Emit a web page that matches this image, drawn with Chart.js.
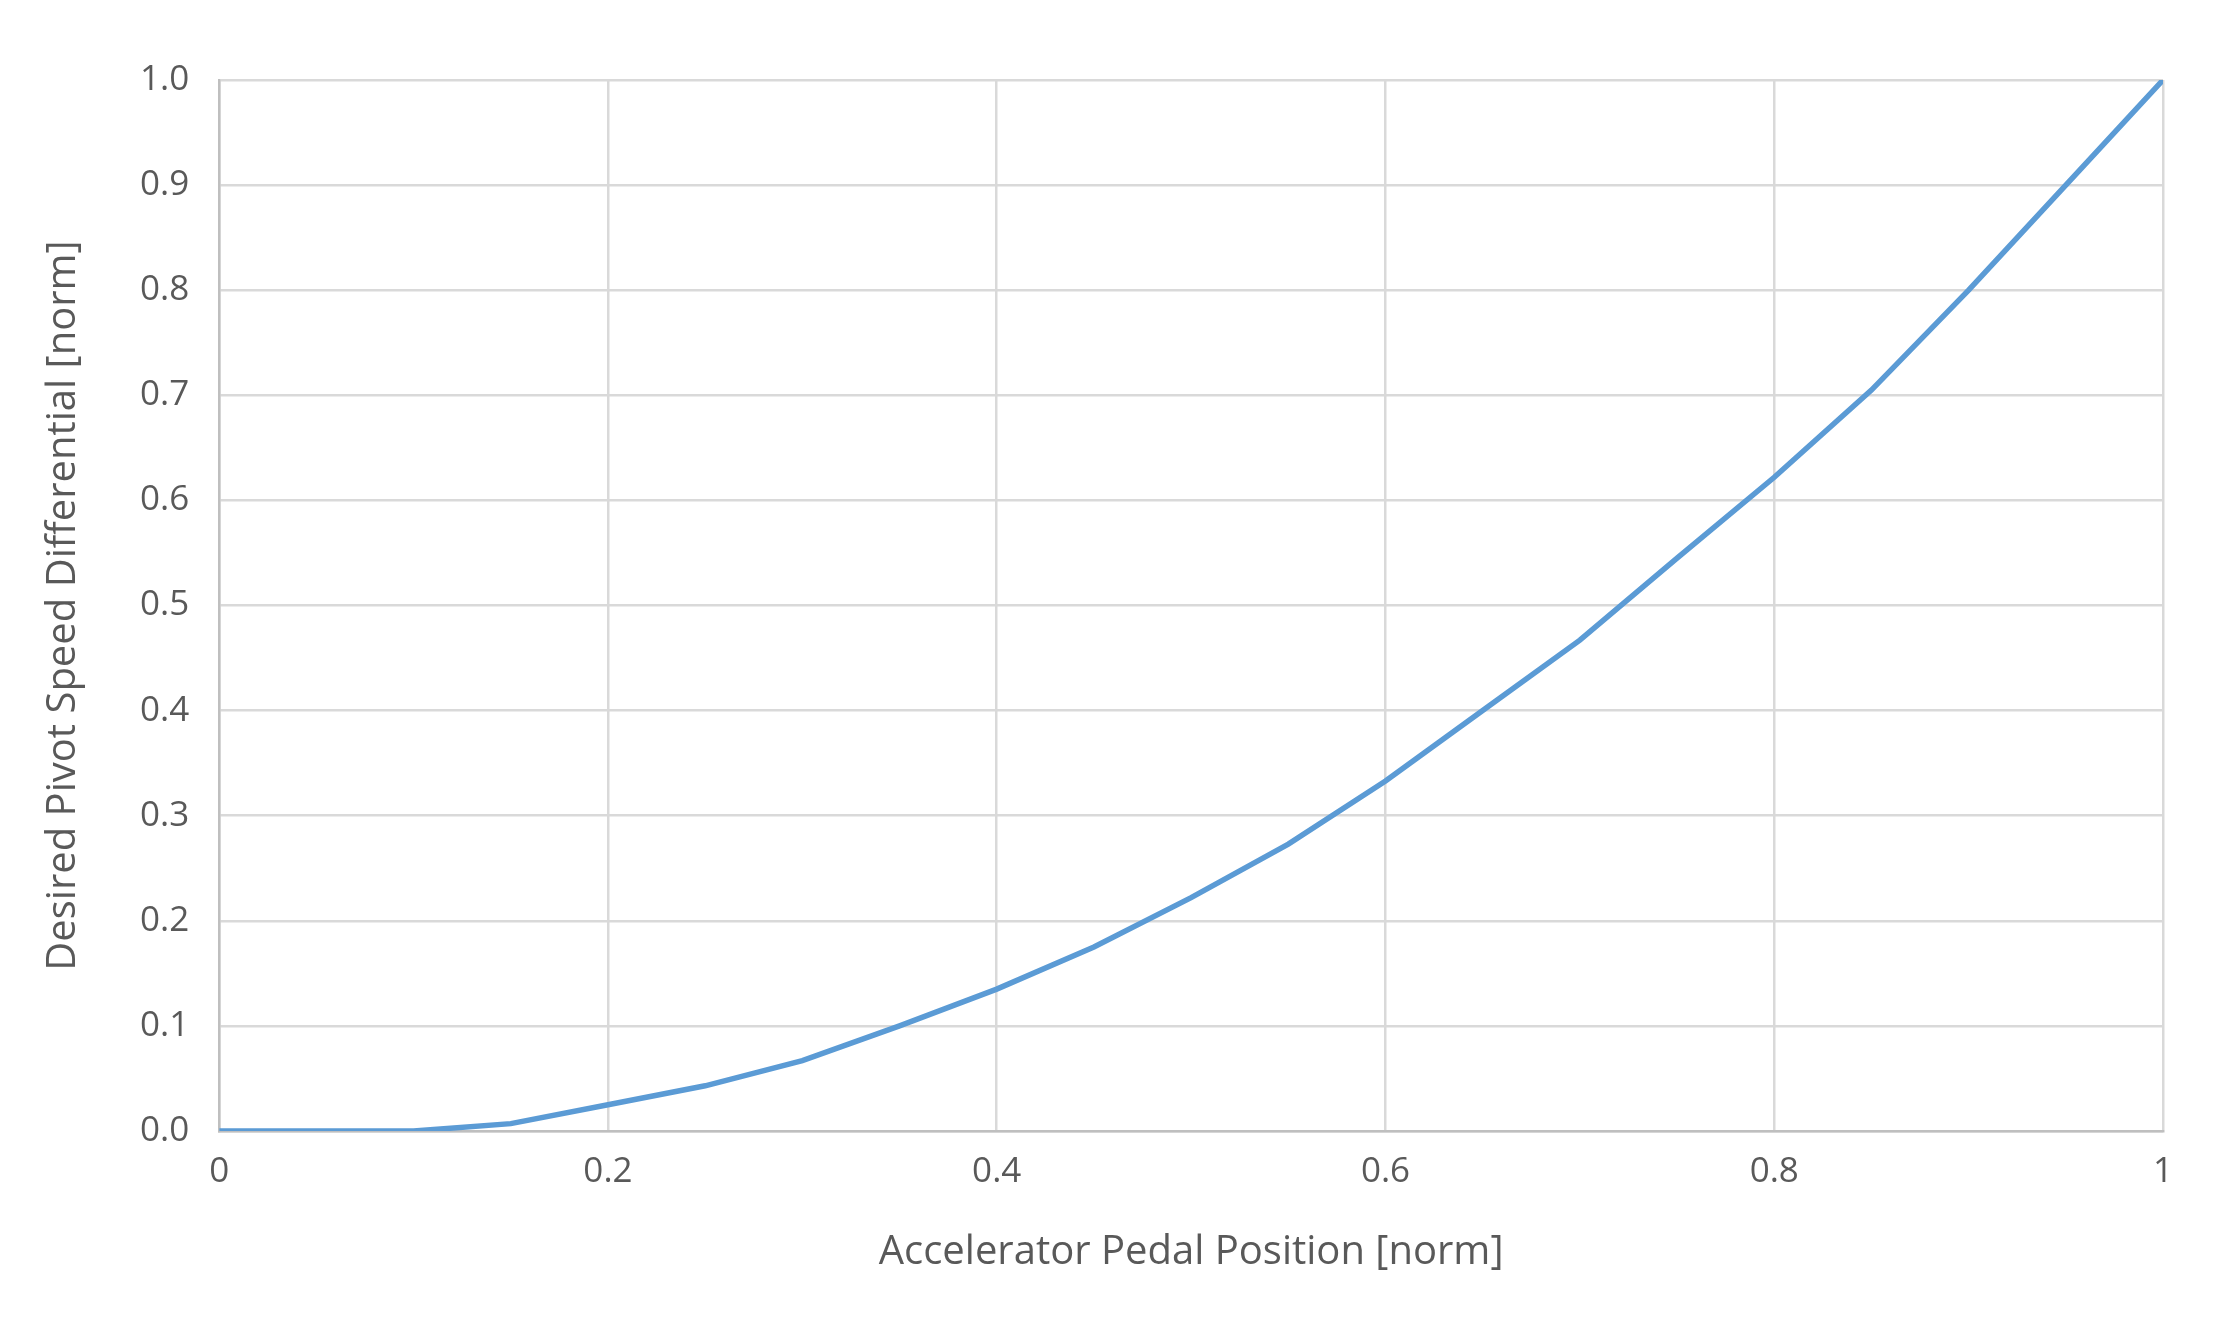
<!DOCTYPE html>
<html>
<head>
<meta charset="utf-8">
<script src="https://cdn.jsdelivr.net/npm/chart.js@4"></script>
<style>
  html, body { margin: 0; padding: 0; background: #fff; }
  #wrap { width: 2213px; height: 1323px; }
</style>
</head>
<body>
<div id="wrap"><canvas id="myChart"></canvas></div>
<script>
// pedal position (x) and desired pivot speed differential (y)
let pedalPos = [0, 0.05, 0.1, 0.15, 0.2, 0.25, 0.3, 0.35, 0.4, 0.45, 0.5,
  0.55, 0.6, 0.65, 0.7, 0.75, 0.8, 0.85, 0.9, 0.95, 1.0];
let pivotDiff = [0, 0, 0, 0.007, 0.025, 0.043, 0.067, 0.1, 0.135, 0.175, 0.222,
  0.273, 0.333, 0.4, 0.467, 0.545, 0.622, 0.705, 0.8, 0.9, 1.0];

let points = pedalPos.map((x, i) => ({ x: x, y: pivotDiff[i] }));

let gray = "#595959";
let gridColor = "#d9d9d9";

let ctx = document.getElementById("myChart").getContext("2d");
let myChart = new Chart(ctx, {
  type: "line",
  data: {
    datasets: [
      {
        data: points,
        borderColor: "#5B9BD5",
        borderWidth: 5.5,
        pointRadius: 0,
        fill: false,
        tension: 0,
      },
    ],
  },
  options: {
    responsive: true,
    maintainAspectRatio: false,
    animation: false,
    layout: { padding: { left: 36, right: 50, top: 80, bottom: 42 } },
    plugins: { legend: { display: false }, tooltip: { enabled: false } },
    scales: {
      x: {
        type: "linear",
        min: 0,
        max: 1,
        ticks: {
          stepSize: 0.2,
          color: gray,
          font: { family: "Open Sans", size: 35 },
          padding: 20,
          callback: (v) => (v === 0 || v === 1 ? String(v) : v.toFixed(1)),
        },
        grid: { color: gridColor, lineWidth: 2.5, drawTicks: false },
        border: { color: "#bfbfbf", width: 2.5 },
        title: {
          display: true,
          text: "Accelerator Pedal Position [norm]",
          color: gray,
          font: { family: "Open Sans", size: 40 },
          padding: { top: 16 },
        },
      },
      y: {
        min: 0,
        max: 1,
        ticks: {
          stepSize: 0.1,
          color: gray,
          font: { family: "Open Sans", size: 35 },
          padding: 30,
          callback: (v) => v.toFixed(1),
        },
        grid: { color: gridColor, lineWidth: 2.5, drawTicks: false },
        border: { color: "#bfbfbf", width: 2.5 },
        title: {
          display: true,
          text: "Desired Pivot Speed Differential [norm]",
          color: gray,
          font: { family: "Open Sans", size: 40 },
          padding: { bottom: 22 },
        },
      },
    },
  },
});
</script>
</body>
</html>
